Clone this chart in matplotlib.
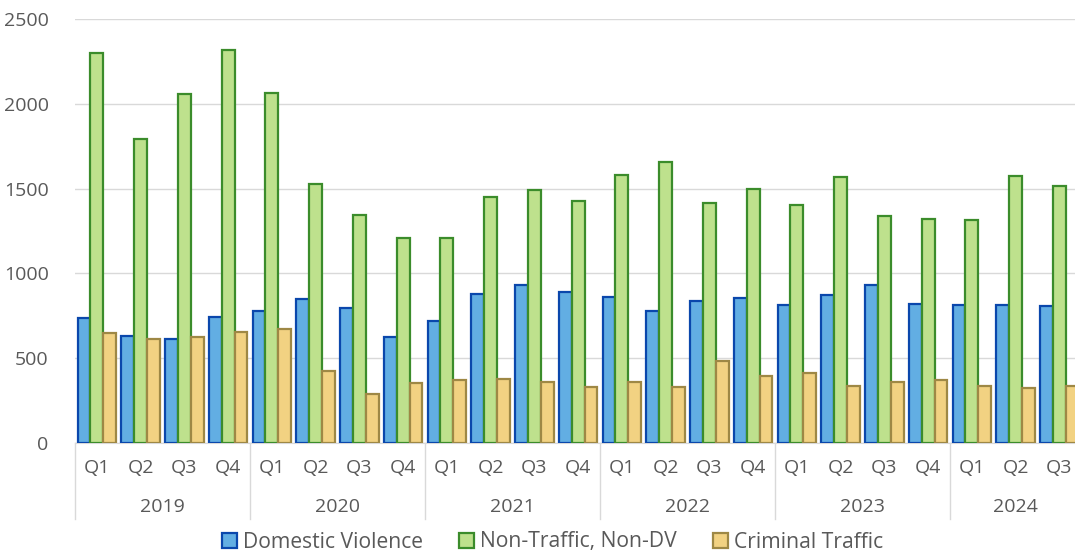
import numpy as np
import matplotlib.pyplot as plt
from matplotlib.patches import Patch
from matplotlib.transforms import blended_transform_factory

years = ['2019', '2020', '2021', '2022', '2023', '2024']
quarters = ['Q1', 'Q2', 'Q3', 'Q4']

# 2019 Q1 .. 2024 Q3
domestic_violence = [737, 630, 615, 740, 780, 850, 794, 625, 721, 877, 931, 888,
                     861, 776, 837, 853, 816, 873, 931, 822, 812, 812, 806]
non_traffic = [2300, 1795, 2055, 2315, 2065, 1525, 1344, 1209, 1209, 1450, 1490, 1425,
               1580, 1659, 1415, 1498, 1405, 1568, 1336, 1321, 1315, 1574, 1517]
criminal_traffic = [650, 615, 625, 655, 675, 425, 289, 352, 371, 377, 358, 328,
                    358, 328, 483, 393, 413, 338, 358, 371, 334, 322, 338]

series = [
    ('Domestic Violence', domestic_violence, '#62AEE3', '#0A47AC'),
    ('Non-Traffic, Non-DV', non_traffic, '#BEE18D', '#3B8C2B'),
    ('Criminal Traffic', criminal_traffic, '#F2D282', '#9E8845'),
]

text_color = '#595959'
plt.rcParams['font.family'] = ['Open Sans', 'DejaVu Sans']

fig = plt.figure(figsize=(10.75, 5.54), dpi=100)
ax = fig.add_axes([75 / 1075, 1 - 443 / 554, 1 - 75 / 1075, 424 / 554])

n = len(domestic_violence)
x = np.arange(n)
w = 0.295
for i, (name, vals, fc, ec) in enumerate(series):
    ax.bar(x + (i - 1) * w, vals, width=w, color=fc, edgecolor=ec, linewidth=1.6, zorder=3)

ax.set_xlim(-0.5, -0.5 + 1000 / 43.75)
ax.set_ylim(0, 2500)
ax.set_yticks(range(0, 2501, 500))
ax.yaxis.grid(True, color='#D9D9D9', linewidth=1)
ax.set_axisbelow(True)
for s in ['top', 'right', 'left']:
    ax.spines[s].set_visible(False)
ax.spines['bottom'].set_color('#D9D9D9')
ax.tick_params(axis='y', length=0, labelsize=14, labelcolor=text_color, pad=19)
ax.set_xticks([])

# two-level category axis
trans = blended_transform_factory(ax.transData, ax.transAxes)
q_y = (443 - 468) / 424
yr_y = (443 - 507) / 424
sep_y = (443 - 519) / 424
for i in range(n):
    ax.text(i, q_y, quarters[i % 4], transform=trans, ha='center', va='center',
            fontsize=14, color=text_color, clip_on=False)
for k, yr in enumerate(years):
    start = k * 4 - 0.5
    end = min(start + 4, n - 0.5)
    ax.text((start + end) / 2, yr_y, yr, transform=trans, ha='center', va='center',
            fontsize=14, color=text_color, clip_on=False)
    ax.plot([start, start], [0, sep_y], transform=trans, color='#D9D9D9',
            linewidth=1, clip_on=False)

handles = [Patch(facecolor=fc, edgecolor=ec, linewidth=1.6, label=name)
           for name, vals, fc, ec in series]
fig.legend(handles=handles, loc='center', bbox_to_anchor=(0.514, 1 - 542 / 554),
           ncol=3, frameon=False, fontsize=15.2, labelcolor=text_color,
           handlelength=0.7, handleheight=0.7, handletextpad=0.3, columnspacing=1.7)

fig.savefig('out.png', dpi=100)
